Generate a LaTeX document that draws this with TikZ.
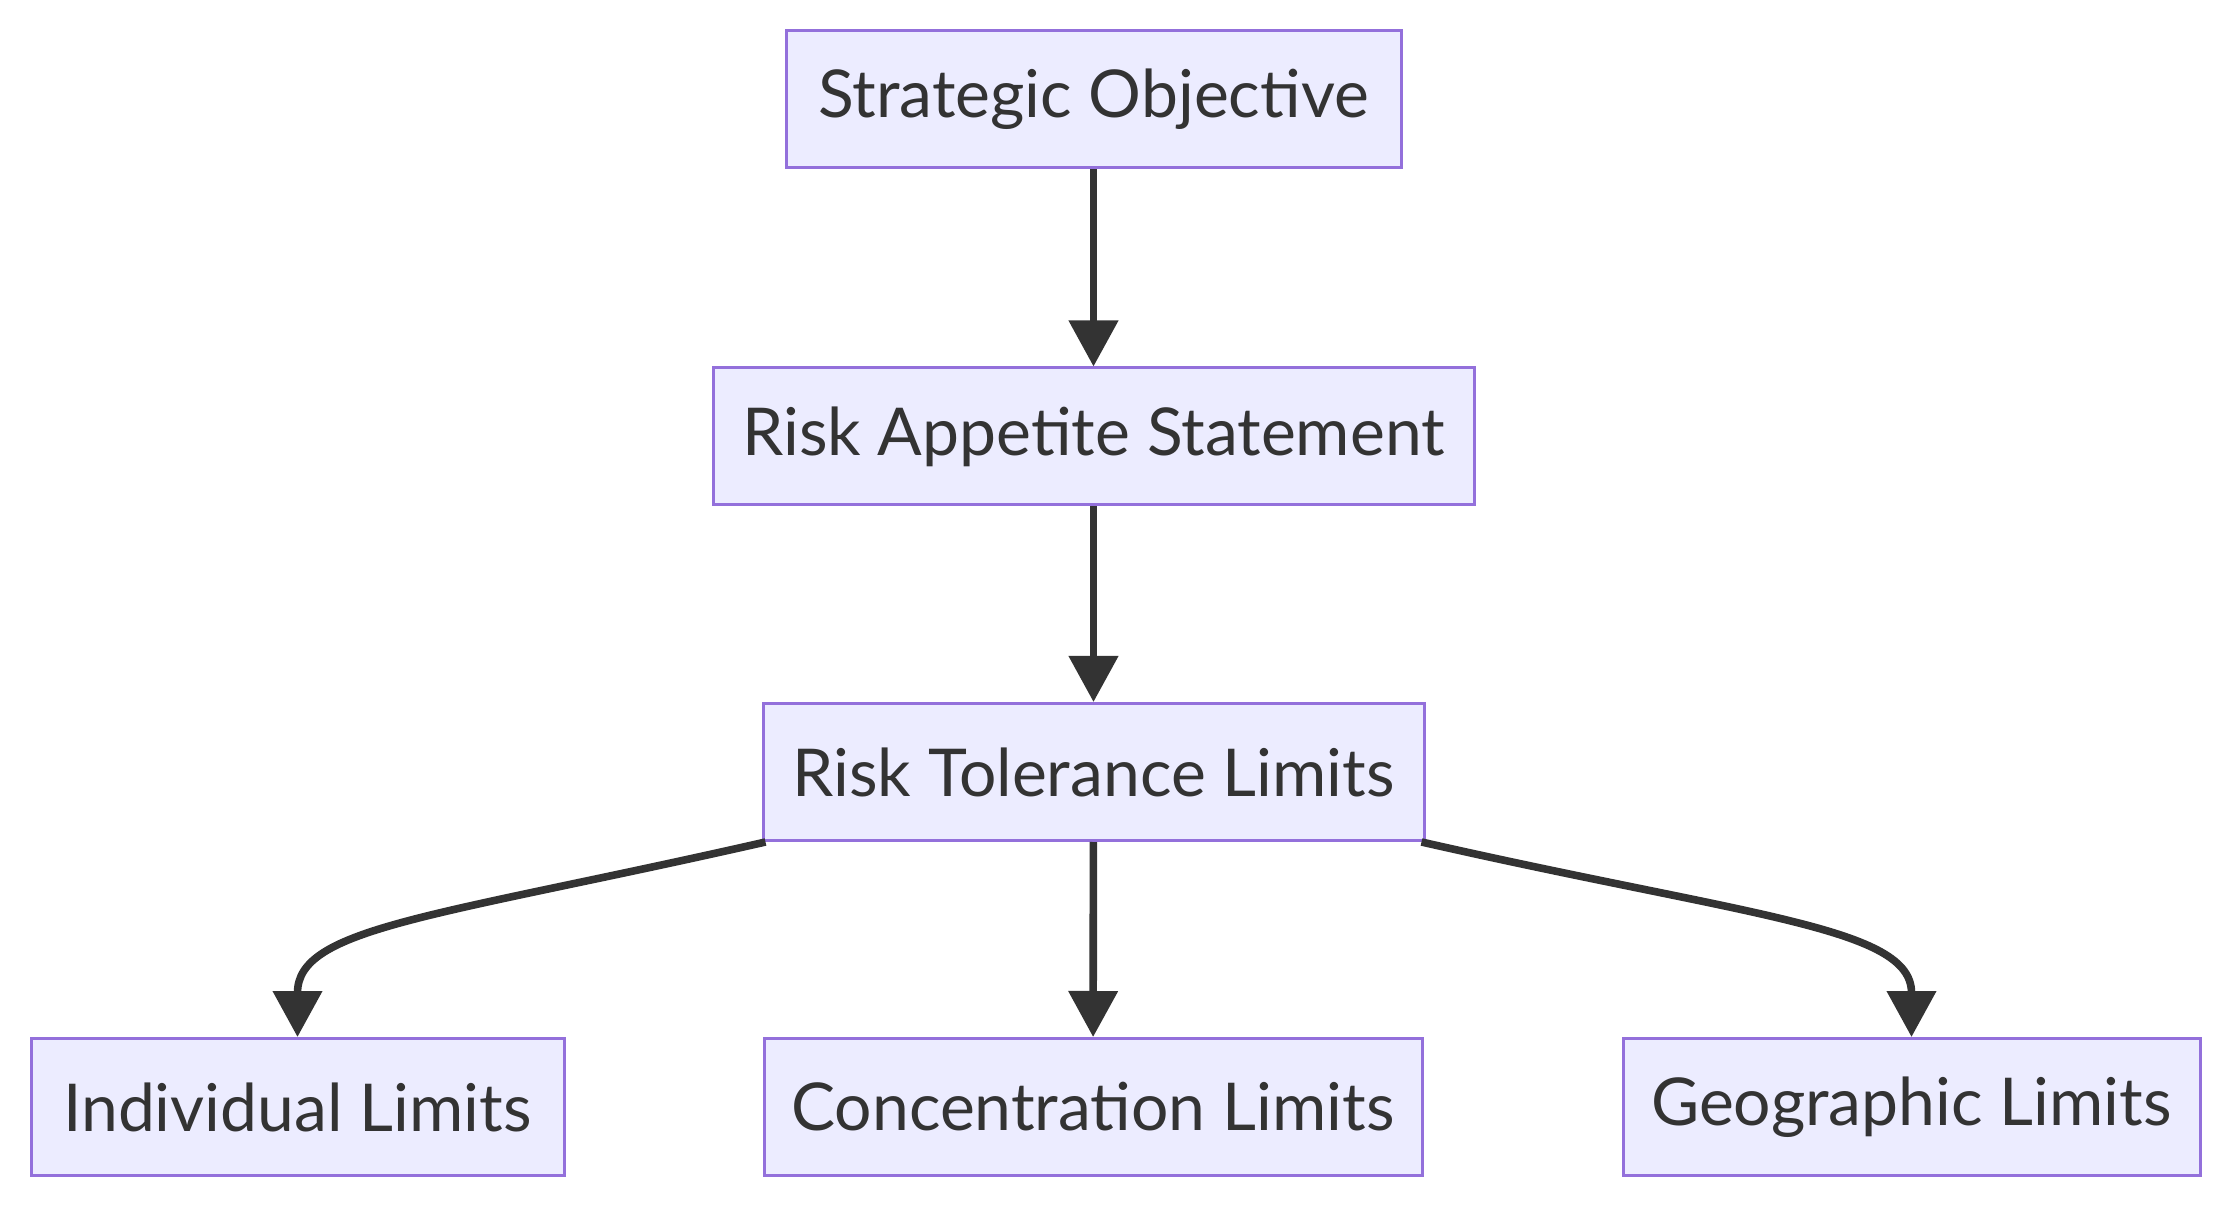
\documentclass[tikz,border=0pt]{standalone}
\usepackage{fontspec}
\setmainfont{Lato}
\usetikzlibrary{arrows.meta}
\definecolor{boxfill}{HTML}{ECECFF}
\definecolor{boxline}{HTML}{9370DB}
\definecolor{inkgrey}{HTML}{333333}
\begin{document}
\begin{tikzpicture}[x=0.25pt, y=-0.25pt,
	   box/.style={draw=boxline, fill=boxfill, line width=0.75pt, minimum height=34.25pt, minimum width=#1, inner sep=0pt, text=inkgrey, font=\fontsize{16.5}{20}\selectfont},
	   link/.style={draw=inkgrey, line width=1.9pt, -{Triangle[length=11.5pt, width=12pt]}}]
	   \useasboundingbox [fill=white] (0, 0) rectangle (2228, 1208);
	   \node [box=153.75pt] (so) at (1093.5, 99.5) {Strategic Objective};
	   \node [box=190.25pt] (ras) at (1093.5, 436.5) {Risk Appetite Statement};
	   \node [box=165.25pt] (rtl) at (1093.5, 772) {Risk Tolerance Limits};
	   \node [box=133.25pt] (il) at (297.5, 1107) {Individual Limits};
	   \node [box=164.5pt] (cl) at (1093, 1107) {Concentration Limits};
	   \node [box=144.25pt] (gl) at (1911.5, 1107) {Geographic Limits};
	   % straight links down the middle
	   \draw [link] (so) -- (ras);
	   \draw [link] (ras) -- (rtl);
	   \draw [link] (rtl) -- (cl);
	   % the two bent ones
	   \draw [link] ([xshift=1pt]rtl.south west) .. controls +(-330, 75) and +(0, -110) .. (il.north);
	   \draw [link] ([xshift=-1pt]rtl.south east) .. controls +(330, 75) and +(0, -110) .. (gl.north);
	\end{tikzpicture}
\end{document}
